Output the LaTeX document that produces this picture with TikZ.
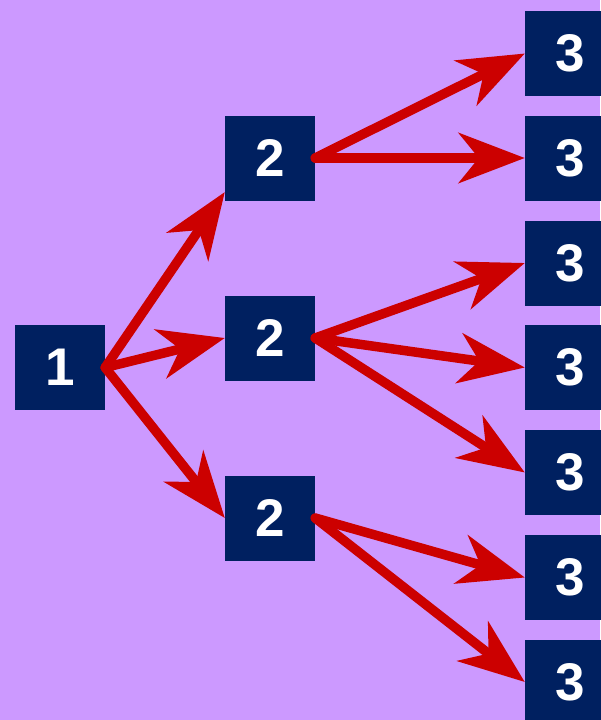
\documentclass[tikz,border=0pt]{standalone}
\usepackage{fontspec}
\setmainfont{Liberation Sans}
\usetikzlibrary{arrows.meta}

\begin{document}
\begin{tikzpicture}
[x = 1pt, y = -1pt, line cap = round,
level box/.style = {fill = boxcolor, text = white, minimum width = 90pt, minimum height = 85pt, inner sep = 0pt, font = \fontsize{53}{53}\selectfont\bfseries},
branch/.style = {line width = 9.5pt, draw = arrowcolor, -{Stealth[length = 66pt, width = 50pt, inset = 20pt]}}]

\definecolor{bgcolor}{HTML}{CC99FF}
\definecolor{boxcolor}{HTML}{002060}
\definecolor{arrowcolor}{HTML}{CC0000}

\fill[bgcolor] (0, 0) rectangle (600, 720);
\useasboundingbox (0, 0) rectangle (600, 720);

\node[level box] (a) at (60, 367.5) {1};

\node[level box] (b1) at (270, 158) {2};
\node[level box] (b2) at (270, 338) {2};
\node[level box] (b3) at (270, 518) {2};

\foreach \y [count = \i] in {53.5, 158, 263, 367.5, 472.5, 577.5, 682}
\node[level box] (c\i) at (570, \y) {3};

\draw[branch] (a.east) -- (b1.217);
\draw[branch] (a.east) -- (b2.west);
\draw[branch] (a.east) -- (b3.west);

\draw[branch] (b1.east) -- (c1.west);
\draw[branch] (b1.east) -- (c2.west);

\draw[branch] (b2.east) -- (c3.west);
\draw[branch] (b2.east) -- (c4.west);
\draw[branch] (b2.east) -- (c5.west);

\draw[branch] (b3.east) -- (c6.west);
\draw[branch] (b3.east) -- (c7.west);
\end{tikzpicture}
\end{document}
